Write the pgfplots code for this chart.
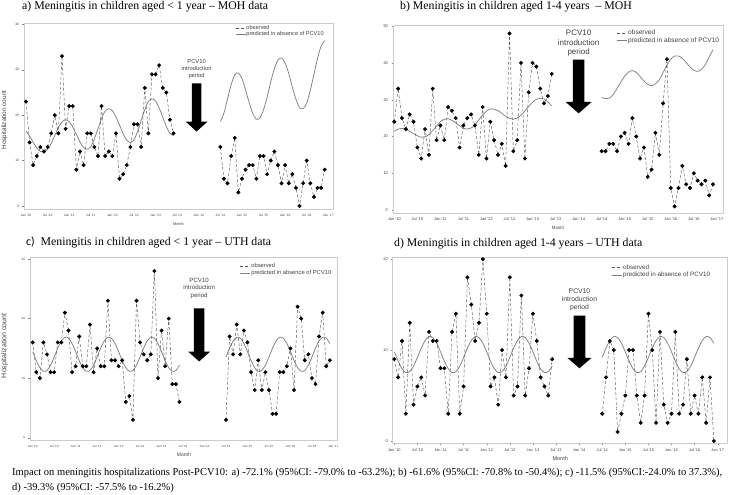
\documentclass[border=0pt]{standalone}
\usepackage{fontspec}
\setmainfont{Liberation Serif}
\setsansfont{Liberation Sans}
\newfontfamily\carlito{Carlito}
\usepackage{pgfplots}
\pgfplotsset{compat=1.18}

\definecolor{obsline}{gray}{0.35}
\definecolor{predline}{gray}{0.5}
\definecolor{boxgray}{gray}{0.8}
\definecolor{txtgray}{gray}{0.25}

\newcommand{\fs}[1]{\fontsize{#1}{1.2\dimexpr #1pt\relax}\selectfont}

\pgfplotsset{
  panel/.style={
    scale only axis,
    axis line style={boxgray, line width=0.5pt},
    tick style={gray, line width=0.3pt},
    tick align=outside,
    major tick length=1.5pt,
    tick pos=left,
    xtick={0,6,...,84},
    xticklabels={Jan '10,Jul '10,Jan '11,Jul '11,Jan '12,Jul '12,Jan '13,Jul '13,Jan '14,Jul '14,Jan '15,Jul '15,Jan '16,Jul '16,Jan '17},
    /pgf/number format/assume math mode=true,
    tick label style={text=txtgray},
    xlabel={Month},
    xlabel style={at={(axis description cs:0.5,0)}, anchor=center, yshift=-15pt, text=txtgray},
    legend cell align=left,
    legend style={draw=none, fill=none, inner sep=0pt, text=txtgray, nodes={inner sep=0.5pt}},
    legend image code/.code={\draw[#1] (0pt,0pt) -- (10pt,0pt);},
    clip=false,
  },
  obs/.style={obsline, densely dashed, line width=0.45pt, mark=*, mark size=1.75pt, mark options={solid, fill=black, draw=black}},
  pred/.style={predline, line width=0.75pt, smooth, no marks},
}

\begin{document}
\begin{tikzpicture}
\useasboundingbox (0,0) rectangle (729pt,495pt);

% ---------------- titles ----------------
\node[anchor=base west, font=\fs{11.8}, inner sep=0] at (22pt,485.5pt) {a) Meningitis in children aged < 1 year -- MOH data};
\node[anchor=base west, font=\fs{11.8}, inner sep=0] at (400pt,485pt) {b) Meningitis in children aged 1-4 years~~-- MOH};
\node[anchor=base west, font=\fs{11.8}, inner sep=0] at (26pt,249.3pt) {{\carlito c)}~~Meningitis in children aged < 1 year -- UTH data};
\node[anchor=base west, font=\fs{11.8}, inner sep=0] at (394pt,248.3pt) {d) Meningitis in children aged 1-4 years -- UTH data};

\node[anchor=base west, font=\fs{10.5}, inner sep=0] at (12pt,19pt) {Impact on meningitis hospitalizations Post-PCV10: a) -72.1\% (95\%CI: -79.0\% to -63.2\%); b) -61.6\% (95\%CI: -70.8\% to -50.4\%); c) -11.5\% (95\%CI:-24.0\% to 37.3\%),};
\node[anchor=base west, font=\fs{10.5}, inner sep=0] at (12pt,4pt) {d) -39.3\% (95\%CI: -57.5\% to -16.2\%)};

% ---------------- panel a ----------------
\begin{axis}[panel, at={(24pt,286pt)}, anchor=south west, width=309pt, height=186pt,
  xmin=-0.55, xmax=85.3, ymin=-0.66, ymax=40.3, ytick={0,10,...,40},
  tick label style={font=\sffamily\fs{3.3}},
  xlabel style={font=\sffamily\fs{3.9}},
  ylabel={Hospitalization count},
  ylabel style={at={(axis description cs:-0.063,0.478)}, anchor=center, font=\sffamily\fs{6.4}, text=txtgray},
  legend style={at={(0.683,0.991)}, anchor=north west, font=\sffamily\fs{5.6}, row sep=-0.5pt}]
\addlegendimage{obsline, densely dashed, line width=0.45pt}
\addlegendentry{observed}
\addlegendimage{predline, line width=0.75pt}
\addlegendentry{predicted in absence of PCV10}
\addplot[pred, forget plot] coordinates {(0,16.5)(1,15.4)(2,14.0)(3,12.8)(4,12.0)(5,11.9)(6,12.5)(7,13.8)(8,15.5)(9,17.2)(10,18.5)(11,19.0)(12,18.6)(13,17.4)(14,15.8)(15,14.1)(16,12.9)(17,12.5)(18,13.1)(19,14.8)(20,17.0)(21,19.3)(22,20.9)(23,21.4)(24,21.0)(25,19.6)(26,17.8)(27,15.9)(28,14.5)(29,14.0)(30,14.6)(31,16.4)(32,18.8)(33,21.2)(34,23.0)(35,23.6)(36,23.1)(37,21.6)(38,19.6)(39,17.5)(40,16.0)(41,15.5)};
\addplot[pred, forget plot] coordinates {(54,18.6)(55,20.5)(56,23.6)(57,26.7)(58,28.9)(59,29.3)(60,28.1)(61,25.6)(62,22.8)(63,20.4)(64,19.1)(65,19.4)(66,21.2)(67,24.0)(68,27.3)(69,30.2)(70,32.1)(71,32.6)(72,31.5)(73,29.2)(74,26.2)(75,23.5)(76,21.7)(77,21.4)(78,22.7)(79,25.5)(80,29.0)(81,32.5)(82,35.2)(83,36.4)};
\addplot[obs, forget plot] coordinates {(0,23)(1,14)(2,9)(3,11)(4,13)(5,12)(6,13)(7,16)(8,20)(9,16)(10,33)(11,17)(12,22)(13,22)(14,8)(15,12)(16,9)(17,16)(18,16)(19,13)(20,11)(21,22)(22,11)(23,12)(24,11)(25,16)(26,6)(27,7)(28,9)(29,13)(30,18)(31,18)(32,13)(33,26)(34,16)(35,29)(36,29)(37,31)(38,26)(39,25)(40,19)(41,16)};
\addplot[obs, forget plot] coordinates {(54,13)(55,6)(56,5)(57,11)(58,15)(59,3)(60,6)(61,8)(62,9)(63,9)(64,6)(65,11)(66,11)(67,7)(68,10)(69,12)(70,9)(71,5)(72,9)(73,5)(74,7)(75,4)(76,0)(77,5)(78,10)(79,5)(80,2)(81,4)(82,4)(83,8)};
\fill[black] (46.1,27.0) -- (48.7,27.0) -- (48.7,18.6) -- (50.45,18.6) -- (47.4,16.4) -- (44.35,18.6) -- (46.1,18.6) -- cycle;
\node[align=center, font=\sffamily\fs{5.8}, text=txtgray, inner sep=0] at (47.4,30.2) {PCV10\\introduction\\period};
\end{axis}

% ---------------- panel b ----------------
\begin{axis}[panel, at={(393pt,282pt)}, anchor=south west, width=330pt, height=188pt,
  xmin=-0.34, xmax=85.6, ymin=-0.8, ymax=50.3, ytick={0,10,...,50},
  tick label style={font=\sffamily\fs{4.0}},
  xlabel style={font=\sffamily\fs{4.4}},
  legend style={at={(0.678,0.976)}, anchor=north west, font=\sffamily\fs{6.6}, row sep=0pt}]
\addlegendimage{obsline, densely dashed, line width=0.45pt}
\addlegendentry{observed}
\addlegendimage{predline, line width=0.75pt}
\addlegendentry{predicted in absence of PCV10}
\addplot[pred, forget plot] coordinates {(0,21.4)(1,22.0)(2,22.2)(3,22.0)(4,21.4)(5,20.8)(6,20.2)(7,19.8)(8,19.9)(9,20.5)(10,21.6)(11,22.8)(12,24.0)(13,24.7)(14,24.8)(15,24.4)(16,23.7)(17,22.9)(18,22.2)(19,22.0)(20,22.3)(21,23.1)(22,24.5)(23,25.8)(24,26.9)(25,27.5)(26,27.4)(27,27.0)(28,26.3)(29,25.5)(30,24.9)(31,24.7)(32,25.0)(33,25.8)(34,26.9)(35,28.2)(36,29.3)(37,30.1)(38,30.4)(39,30.2)(40,29.4)(41,28.3)};
\addplot[pred, forget plot] coordinates {(54,30.6)(55,30.3)(56,30.4)(57,31.4)(58,33.0)(59,34.8)(60,36.4)(61,37.5)(62,37.9)(63,37.4)(64,36.3)(65,35.1)(66,34.2)(67,33.8)(68,34.3)(69,35.4)(70,37.4)(71,39.4)(72,41.0)(73,41.9)(74,41.9)(75,41.2)(76,40.1)(77,38.9)(78,38.0)(79,37.7)(80,38.2)(81,39.6)(82,41.6)(83,43.6)};
\addplot[obs, forget plot] coordinates {(0,24)(1,33)(2,25)(3,22)(4,26)(5,24)(6,17)(7,14)(8,22)(9,15)(10,33)(11,19)(12,23)(13,19)(14,28)(15,27)(16,25)(17,17)(18,23)(19,25)(20,26)(21,23)(22,15)(23,28)(24,14)(25,24)(26,19)(27,15)(28,18)(29,12)(30,48)(31,16)(32,19)(33,40)(34,14)(35,32)(36,40)(37,39)(38,33)(39,29)(40,31)(41,37)};
\addplot[obs, forget plot] coordinates {(54,16)(55,16)(56,18)(57,18)(58,16)(59,20)(60,21)(61,18)(62,25)(63,20)(64,14)(65,17)(66,9)(67,11)(68,21)(69,15)(70,29)(71,41)(72,6)(73,1)(74,6)(75,12)(76,7)(77,6)(78,10)(79,8)(80,7)(81,8)(82,4)(83,7)};
\fill[black] (46.52,40.9) -- (49.48,40.9) -- (49.48,29.4) -- (51.4,29.4) -- (48.0,26.3) -- (44.6,29.4) -- (46.52,29.4) -- cycle;
\node[align=center, font=\sffamily\fs{8.0}, text=txtgray, inner sep=0] at (48.0,45.3) {PCV10\\introduction\\period};
\end{axis}

% ---------------- panel c ----------------
\begin{axis}[panel, at={(30pt,55pt)}, anchor=south west, width=307.7pt, height=182.7pt,
  xmin=-0.75, xmax=85.2, ymin=-0.39, ymax=30.3, ytick={0,10,20,30},
  tick label style={font=\sffamily\fs{3.0}},
  xlabel style={font=\sffamily\fs{5.0}},
  ylabel={Hospitalization count},
  ylabel style={at={(axis description cs:-0.083,0.516)}, anchor=center, font=\sffamily\fs{7.0}, text=txtgray},
  legend style={at={(0.682,0.969)}, anchor=north west, font=\sffamily\fs{5.8}, row sep=0pt}]
\addlegendimage{obsline, densely dashed, line width=0.45pt}
\addlegendentry{observed}
\addlegendimage{predline, line width=0.75pt}
\addlegendentry{predicted in absence of PCV10}
\addplot[pred, forget plot] coordinates {(0,14.45)(1,12.96)(2,11.75)(3,11.14)(4,11.29)(5,12.18)(6,13.55)(7,15.04)(8,16.25)(9,16.86)(10,16.71)(11,15.82)(12,14.45)(13,12.96)(14,11.75)(15,11.14)(16,11.29)(17,12.18)(18,13.55)(19,15.04)(20,16.25)(21,16.86)(22,16.71)(23,15.82)(24,14.45)(25,12.96)(26,11.75)(27,11.14)(28,11.29)(29,12.18)(30,13.55)(31,15.04)(32,16.25)(33,16.86)(34,16.71)(35,15.82)(36,14.45)(37,12.96)(38,11.75)(39,11.14)(40,11.29)(41,12.18)};
\addplot[pred, forget plot] coordinates {(54,13.55)(55,15.04)(56,16.25)(57,16.86)(58,16.71)(59,15.82)(60,14.45)(61,12.96)(62,11.75)(63,11.14)(64,11.29)(65,12.18)(66,13.55)(67,15.04)(68,16.25)(69,16.86)(70,16.71)(71,15.82)(72,14.45)(73,12.96)(74,11.75)(75,11.14)(76,11.29)(77,12.18)(78,13.55)(79,15.04)(80,16.25)(81,16.86)(82,16.71)(83,15.82)};
\addplot[obs, forget plot] coordinates {(0,16)(1,11)(2,10)(3,16)(4,14)(5,11)(6,11)(7,16)(8,16)(9,21)(10,18)(11,11)(12,12)(13,17)(14,12)(15,12)(16,19)(17,11)(18,15)(19,12)(20,12)(21,23)(22,13)(23,13)(24,12)(25,13)(26,6)(27,7)(28,3)(29,23)(30,16)(31,14)(32,13)(33,14)(34,28)(35,10)(36,18)(37,12)(38,20)(39,9)(40,9)(41,6)};
\addplot[obs, forget plot] coordinates {(54,3)(55,17)(56,14)(57,19)(58,14)(59,18)(60,16)(61,11)(62,8)(63,13)(64,8)(65,11)(66,8)(67,4)(68,4)(69,11)(70,11)(71,12)(72,15)(73,8)(74,22)(75,20)(76,13)(77,14)(78,10)(79,9)(80,17)(81,21)(82,12)(83,13)};
\fill[black] (45.01,21.7) -- (47.99,21.7) -- (47.99,14.45) -- (49.53,14.45) -- (46.5,12.8) -- (43.47,14.45) -- (45.01,14.45) -- cycle;
\node[align=center, font=\sffamily\fs{6.1}, text=txtgray, inner sep=0] at (46.5,25.1) {PCV10\\introduction\\period};
\end{axis}

% ---------------- panel d ----------------
\begin{axis}[panel, at={(392.7pt,51.7pt)}, anchor=south west, width=335pt, height=186pt,
  xmin=-0.42, xmax=86.6, ymin=-0.25, ymax=20.2, ytick={0,10,20},
  tick label style={font=\sffamily\fs{3.9}},
  xlabel style={font=\sffamily\fs{5.5}},
  legend style={at={(0.654,0.964)}, anchor=north west, font=\sffamily\fs{6.3}, row sep=0.5pt}]
\addlegendimage{obsline, densely dashed, line width=0.45pt}
\addlegendentry{observed}
\addlegendimage{predline, line width=0.75pt}
\addlegendentry{predicted in absence of PCV10}
\addplot[pred, forget plot] coordinates {(0,9.81)(1,8.78)(2,7.95)(3,7.52)(4,7.63)(5,8.24)(6,9.19)(7,10.22)(8,11.05)(9,11.48)(10,11.37)(11,10.76)(12,9.81)(13,8.78)(14,7.95)(15,7.52)(16,7.63)(17,8.24)(18,9.19)(19,10.22)(20,11.05)(21,11.48)(22,11.37)(23,10.76)(24,9.81)(25,8.78)(26,7.95)(27,7.52)(28,7.63)(29,8.24)(30,9.19)(31,10.22)(32,11.05)(33,11.48)(34,11.37)(35,10.76)(36,9.81)(37,8.78)(38,7.95)(39,7.52)(40,7.63)(41,8.24)};
\addplot[pred, forget plot] coordinates {(54,9.19)(55,10.22)(56,11.05)(57,11.48)(58,11.37)(59,10.76)(60,9.81)(61,8.78)(62,7.95)(63,7.52)(64,7.63)(65,8.24)(66,9.19)(67,10.22)(68,11.05)(69,11.48)(70,11.37)(71,10.76)(72,9.81)(73,8.78)(74,7.95)(75,7.52)(76,7.63)(77,8.24)(78,9.19)(79,10.22)(80,11.05)(81,11.48)(82,11.37)(83,10.76)};
\addplot[obs, forget plot] coordinates {(0,9)(1,7)(2,11)(3,3)(4,13)(5,4)(6,6)(7,7)(8,5)(9,12)(10,11)(11,11)(12,8)(13,8)(14,3)(15,12)(16,14)(17,3)(18,6)(19,18)(20,15)(21,11)(22,13)(23,20)(24,14)(25,6)(26,7)(27,4)(28,10)(29,7)(30,18)(31,5)(32,6)(33,16)(34,5)(35,8)(36,14)(37,11)(38,7)(39,6)(40,5)(41,9)};
\addplot[obs, forget plot] coordinates {(54,3)(55,7)(56,11)(57,10)(58,1)(59,3)(60,5)(61,10)(62,10)(63,5)(64,2)(65,5)(66,14)(67,10)(68,2)(69,12)(70,4)(71,2)(72,3)(73,12)(74,3)(75,4)(76,9)(77,3)(78,5)(79,3)(80,7)(81,2)(82,7)(83,0)};
\fill[black] (46.6,13.8) -- (49.6,13.8) -- (49.6,9.15) -- (51.26,9.15) -- (48.1,8.0) -- (44.94,9.15) -- (46.6,9.15) -- cycle;
\node[align=center, font=\sffamily\fs{6.8}, text=txtgray, inner sep=0] at (48.1,15.5) {PCV10\\introduction\\period};
\end{axis}
\end{tikzpicture}
\end{document}
